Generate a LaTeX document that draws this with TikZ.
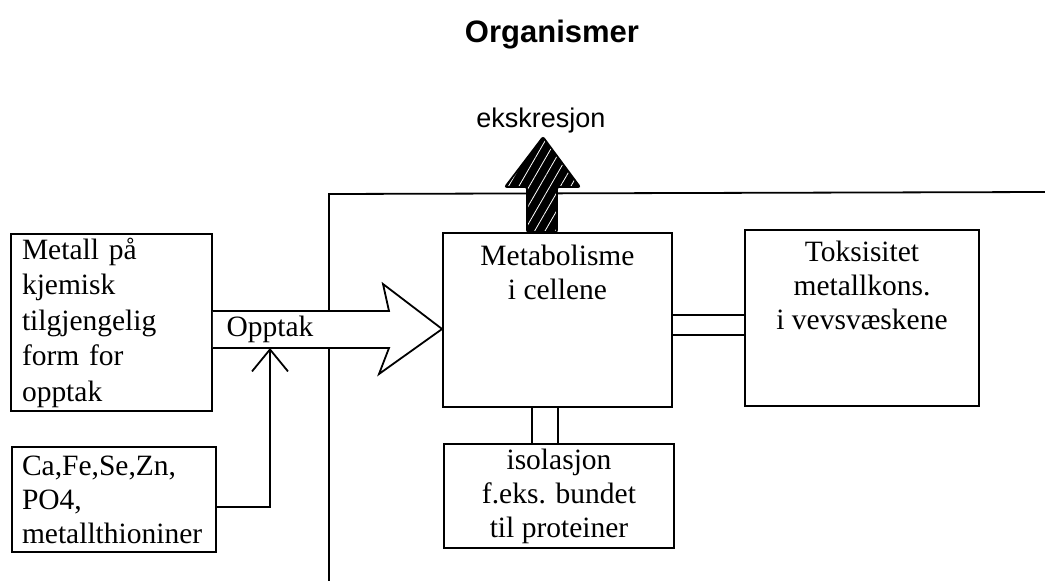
\documentclass[tikz,border=0pt]{standalone}
\usepackage{fontspec}
\setmainfont{Liberation Serif}
\setsansfont{Liberation Sans}
\usepackage{tikz}
\usetikzlibrary{arrows.meta, positioning, patterns.meta}
\tikzset{
  blokk/.style={draw, line width=1.8pt, inner sep=0pt},
  tekst/.style={font=\fontsize{29.5}{35.5}\selectfont},
  tett/.style={font=\fontsize{29.5}{34}\selectfont},
  ror/.style={double distance=17.5pt, line width=1.8pt},
  strek/.style={line width=1.8pt}
}

\begin{document}
\begin{tikzpicture}[x=1pt, y=-1pt]
\useasboundingbox (0,0) rectangle (1045,581);

% Title
\node [anchor=base, font=\sffamily\bfseries\fontsize{31}{36}\selectfont] (tittel) at (552,42) {Organismer};

% Organism frame
\draw[strek] (329,581) -- (329,194) -- (1045,192);

% Blocks
\node [blokk, tekst,
    minimum width=201pt,
    minimum height=177pt,
    text width=179pt, inner xsep=11pt, align=left
] (metall) at (111.5,322.5) {Metall på\\kjemisk\\tilgjengelig\\form for\\opptak};

\node [blokk, tett,
    minimum width=204pt,
    minimum height=105pt,
    text width=184pt, inner xsep=10pt, align=left
] (stoffer) at (114,499.5) {Ca,Fe,Se,Zn,\\PO4,\\metallthioniner};

\node [blokk,
    minimum width=229pt,
    minimum height=174pt
] (meta) at (557.5,320) {};
\node [tett, anchor=north, align=center, inner sep=0pt] (metatekst)
    at ([yshift=-13pt]meta.north) {Metabolisme\\i cellene};

\node [blokk,
    minimum width=234pt,
    minimum height=176pt
] (tox) at (862,318) {};
\node [tett, anchor=north, align=center, inner sep=0pt] (toxtekst)
    at ([yshift=-12pt]tox.north) {Toksisitet\\metallkons.\\i vevsvæskene};

\node [blokk, tett,
    minimum width=230pt,
    minimum height=104pt,
    align=center
] (iso) at (559,496) {isolasjon\\f.eks. bundet\\til proteiner};

% Uptake arrow
\draw[strek, fill=white] (metall.east |- 0,311) -- (389,311) -- (383,284)
    -- (meta.west |- 0,329) -- (379,374) -- (389,348) -- (metall.east |- 0,348);
\node [tekst, anchor=base] (opptak) at (270,336) {Opptak};

\coordinate (inn) at (270,348);
\draw[strek, -{Straight Barb[length=22pt, width=36pt, line width=1.8pt]}]
    (stoffer.east |- 0,507) -| (inn);

% Excretion arrow
\draw[strek, rounded corners=2pt,
    preaction={fill=black},
    pattern={Lines[angle=60, distance=9pt, line width=0.8pt]}, pattern color=white]
    ([xshift=-30.5pt]meta.north) -- (527,187) -- (505,187) -- (543,137)
    -- (580,187) -- (557,187) -- ([xshift=-0.5pt]meta.north) -- cycle;
\node [anchor=base, font=\sffamily\fontsize{27}{32}\selectfont] (ekskresjon) at (541,127) {ekskresjon};

% Links
\draw[ror] (meta.east |- 0,325) -- (tox.west |- 0,325);
\draw[ror, double distance=24pt] (meta.south -| 545,0) -- (iso.north -| 545,0);

\end{tikzpicture}
\end{document}
